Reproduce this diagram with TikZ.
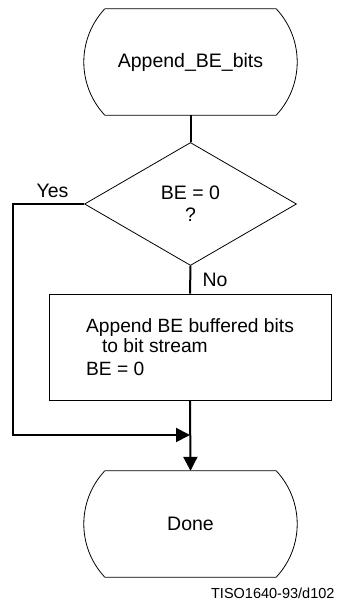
\documentclass[tikz,border=0pt]{standalone}
\usepackage{fontspec}
\setmainfont{Liberation Sans}
\usetikzlibrary{arrows.meta,positioning,shapes.geometric}

% rounded-side terminator drawn round a named node
\newcommand{\termoutline}[1]{%
  \draw[line width=0.8pt] (#1.north west) -- (#1.north east)
    .. controls +(28pt,-30pt) and +(28pt,30pt) .. (#1.south east)
    -- (#1.south west)
    .. controls +(-28pt,30pt) and +(-28pt,-30pt) .. (#1.north west);}

\begin{document}
\begin{tikzpicture}[x=1pt,y=1pt,>={Triangle[length=14pt,width=14pt]},
  every node/.style={font=\fontsize{19.5}{19}\selectfont},
  termbox/.style={minimum width=171pt,minimum height=106pt,inner sep=0pt},
  flow/.style={line width=2pt}]
  \useasboundingbox (0,0) rectangle (337,603);
  % ---- shapes ----
  \node[termbox] (start) at (190.5,541) {Append\_BE\_bits};
  \termoutline{start}
  \node[diamond,draw,line width=0.8pt,minimum width=212pt,minimum height=123pt,
        inner sep=0pt,align=center] (test) at (190.5,399)
    {BE = 0\\[3pt]?};
  \node[draw,line width=0.8pt,minimum width=282pt,minimum height=106pt,align=left,
        font=\fontsize{19.2}{20}\selectfont] (append) at (190,256)
    {Append BE buffered bits\\\hspace{16pt}to bit stream\\[3pt]BE = 0};
  \node[termbox] (done) at (190.5,79) {Done};
  \termoutline{done}
  % ---- connectors ----
  \draw[flow] (start.south) -- (test.north);
  \draw[flow] (test.south) -- (append.north);
  \coordinate (yesturn) at (13,168);
  \coordinate (join) at (190,168);
  \draw[flow,->] (test.west) -| (yesturn) -- (join);
  \draw[flow,->] (append.south) -- (done.north);
  % ---- labels ----
  \node (yes) at (52.5,412) {Yes};
  \node (no) at (215,323.5) {No};
  \node[anchor=east,font=\fontsize{14.5}{16}\selectfont] (tag) at (338,10)
    {TISO1640-93/d102};
\end{tikzpicture}
\end{document}
